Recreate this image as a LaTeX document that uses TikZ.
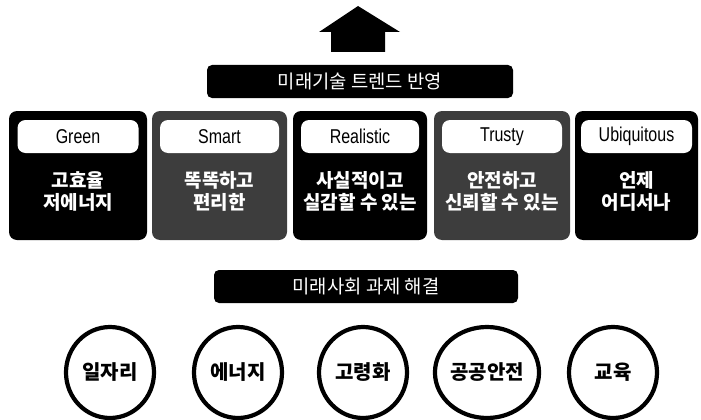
\documentclass[tikz,border=0pt]{standalone}
\usepackage{fontspec}
\setmainfont{Noto Sans CJK KR}
\newfontfamily\latcond[FakeStretch=0.8]{Liberation Sans}
\usetikzlibrary{shapes.geometric}
\begin{document}
\begin{tikzpicture}[x=1pt,y=-1pt,
  titlebar/.style={fill=black, rounded corners=5pt, minimum width=306pt, minimum height=33pt,
    inner sep=0pt, text=white, font=\fontsize{18.8}{20}\selectfont},
  trendbox/.style={rounded corners=8pt, minimum height=129pt, inner sep=0pt},
  darkbox/.style={trendbox, fill=black},
  greybox/.style={trendbox, fill=black!76},
  pill/.style={fill=white, rounded corners=8pt, minimum height=33pt, inner sep=0pt,
    font=\latcond\fontsize{20}{22}\selectfont},
  desc/.style={text=white, align=center, font=\fontsize{19}{22}\selectfont\bfseries},
  issue/.style={ellipse, draw=black, line width=4.2pt, minimum width=88pt, minimum height=91pt,
    inner sep=0pt, font=\fontsize{20}{22}\selectfont\bfseries}
]
\useasboundingbox (0,0) rectangle (701,420);
% up arrow
\fill (358,6) -- (400,32) -- (385,32) -- (385,52) -- (331,52) -- (331,32) -- (319,32) -- cycle;
% title bars
\node[titlebar] (t1) at (360,81.5) {미래기술 트렌드 반영};
\node[titlebar, minimum width=304pt] (t2) at (366,286.5) {미래사회 과제 해결};
% trend boxes
\node[darkbox, minimum width=138pt] (b1) at (78,175.5) {};
\node[greybox, minimum width=135pt] (b2) at (219.5,175.5) {};
\node[darkbox, minimum width=134pt] (b3) at (360,175.5) {};
\node[greybox, minimum width=136pt] (b4) at (502,175.5) {};
\node[darkbox, minimum width=123pt] (b5) at (636.5,175.5) {};
% labels
\node[pill, minimum width=121pt] (p1) at (78,136.5) {Green};
\node[pill, minimum width=119pt] (p2) at (219.5,136.5) {Smart};
\node[pill, minimum width=118pt] (p3) at (360,136.5) {Realistic};
\node[pill, minimum width=120pt] (p4) at (502,136.5) {Trusty};
\node[pill, minimum width=111pt] (p5) at (636.5,136.5) {Ubiquitous};
% descriptions
\node[desc] (d1) at (78,191.5) {고효율\\저에너지};
\node[desc] (d2) at (219.5,191.5) {똑똑하고\\편리한};
\node[desc] (d3) at (360,191.5) {사실적이고\\실감할 수 있는};
\node[desc] (d4) at (502,191.5) {안전하고\\신뢰할 수 있는};
\node[desc] (d5) at (636.5,191.5) {언제\\어디서나};
% issues
\node[issue] (c1) at (110,372.5) {일자리};
\node[issue] (c2) at (238,372.5) {에너지};
\node[issue] (c3) at (363,372.5) {고령화};
\node[issue] (c4) at (487,372.5) {공공안전};
\node[issue] (c5) at (613,372.5) {교육};
\end{tikzpicture}
\end{document}
